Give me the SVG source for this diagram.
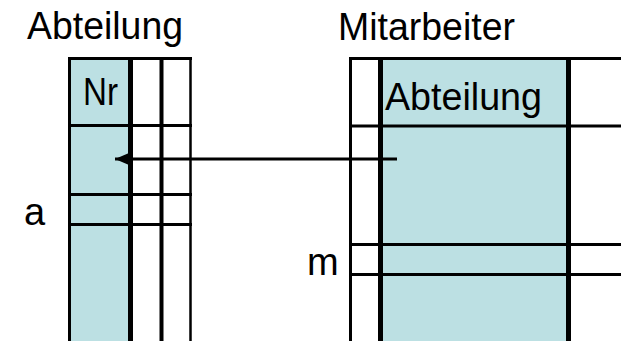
<svg xmlns="http://www.w3.org/2000/svg" width="621" height="341" viewBox="0 0 621 341">
  <style>
    .lbl { font-family: "Liberation Sans", Arial, sans-serif; font-size: 38px; fill: #000; }
    .key { fill: #BCE0E3; stroke: none; }
    .ln { stroke: #000; fill: none; }
    .thin { stroke-width: 3; }
    .thick { stroke-width: 5; }
  </style>
  <defs>
    <!-- filled triangle, tip at the end of the line -->
    <marker id="arrowHead" markerUnits="userSpaceOnUse" markerWidth="15" markerHeight="13" refX="14" refY="6.5" orient="auto">
      <path d="M0,0.5 L14,6.5 L0,12.5 Z" fill="#000"/>
    </marker>
  </defs>
  <rect width="621" height="341" fill="#fff"/>

  <!-- Abteilung table -->
  <g id="abteilung">
    <text class="lbl" x="27" y="39" textLength="156" lengthAdjust="spacingAndGlyphs">Abteilung</text>
    <rect class="key" x="69.5" y="58" width="61" height="283"/>
    <line class="ln thin" x1="68" y1="58.5" x2="192" y2="58.5"/>
    <line class="ln thin" x1="68" y1="125.5" x2="192" y2="125.5"/>
    <line class="ln thin" x1="68" y1="194.5" x2="192" y2="194.5"/>
    <line class="ln thin" x1="68" y1="224.5" x2="192" y2="224.5"/>
    <line class="ln thin" x1="69.5" y1="57" x2="69.5" y2="341"/>
    <line class="ln thick" x1="130.5" y1="57" x2="130.5" y2="341"/>
    <line class="ln" stroke-width="4" x1="161.5" y1="57" x2="161.5" y2="341"/>
    <line class="ln" stroke-width="2.5" x1="190.5" y1="57" x2="190.5" y2="341"/>
    <text class="lbl" x="83" y="105" font-size="36" textLength="35" lengthAdjust="spacingAndGlyphs">Nr</text>
    <text class="lbl" x="24" y="225" font-size="37">a</text>
  </g>

  <!-- Mitarbeiter table -->
  <g id="mitarbeiter">
    <text class="lbl" x="338" y="40" textLength="177" lengthAdjust="spacingAndGlyphs">Mitarbeiter</text>
    <rect class="key" x="380.5" y="58" width="188" height="283"/>
    <line class="ln thin" x1="349" y1="58.5" x2="621" y2="58.5"/>
    <line class="ln thin" x1="349" y1="126" x2="621" y2="126"/>
    <line class="ln thin" x1="349" y1="244.5" x2="621" y2="244.5"/>
    <line class="ln thin" x1="349" y1="274.5" x2="621" y2="274.5"/>
    <line class="ln thin" x1="350.5" y1="57" x2="350.5" y2="341"/>
    <line class="ln thick" x1="380.5" y1="57" x2="380.5" y2="341"/>
    <line class="ln thick" x1="568.5" y1="57" x2="568.5" y2="341"/>
    <text class="lbl" x="385" y="110" textLength="157" lengthAdjust="spacingAndGlyphs">Abteilung</text>
    <text class="lbl" x="307" y="275" font-size="37">m</text>
  </g>

  <!-- foreign key reference -->
  <g id="connectors">
    <line class="ln thin" x1="397" y1="159" x2="115" y2="159" marker-end="url(#arrowHead)"/>
  </g>
</svg>
